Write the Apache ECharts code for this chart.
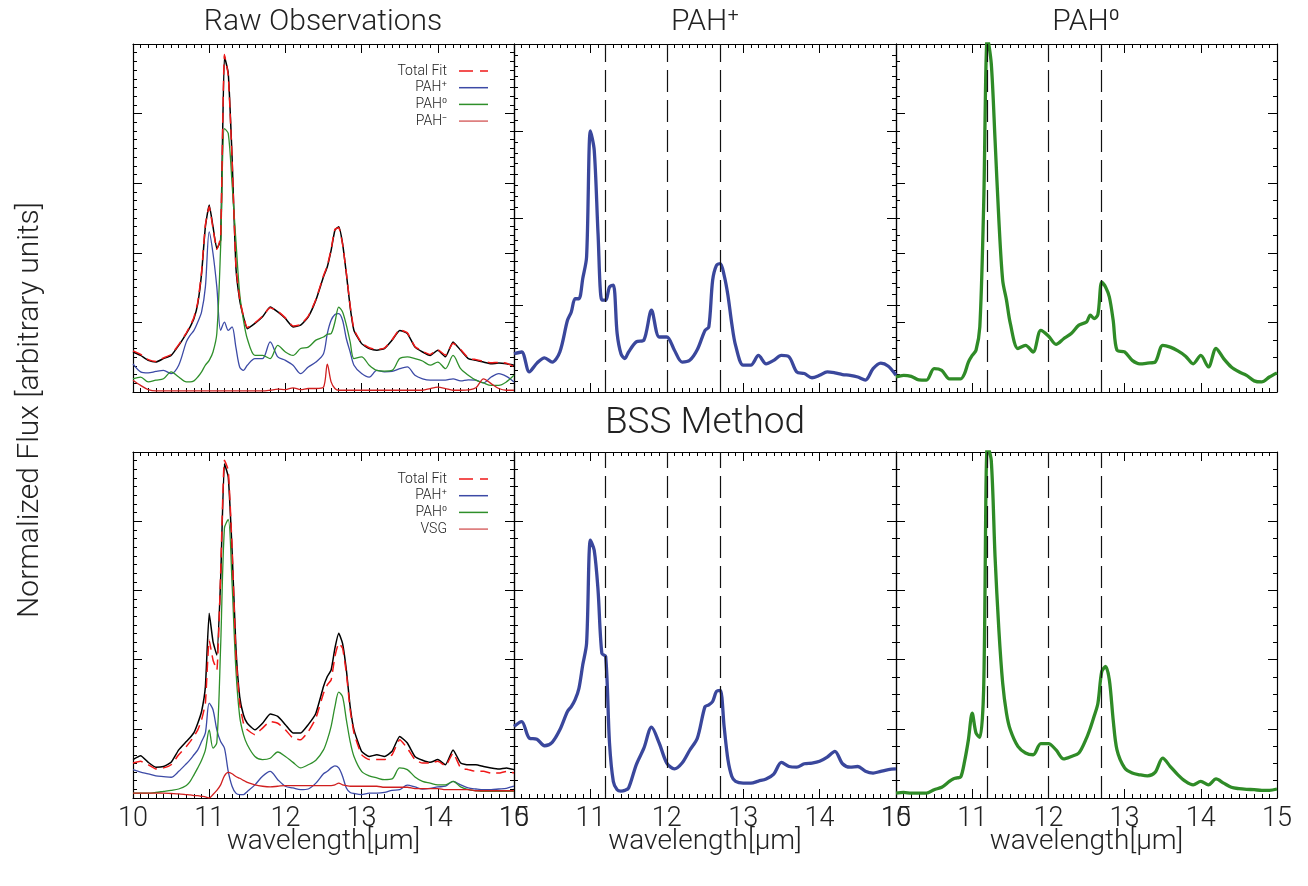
<!DOCTYPE html>
<html>
<head>
<meta charset="utf-8">
<title>PAH spectra</title>
<script src="https://cdn.jsdelivr.net/npm/echarts@6/dist/echarts.min.js"></script>
<style>
html, body { margin: 0; padding: 0; background: #fff; }
#main { width: 1308px; height: 886px; }
</style>
</head>
<body>
<div id="main"></div>
<script>
// wavelength grid in micron (denser around the 11.2 and 12.7 bands)
var wave = [10.0,10.1,10.2,10.3,10.4,10.5,10.6,10.7,
  10.75,10.8,10.85,10.9,10.95,11.0,11.05,11.1,11.15,11.2,11.25,11.3,11.35,11.4,11.45,11.5,
  11.6,11.7,11.8,11.9,12.0,12.1,12.2,12.3,12.4,12.5,
  12.55,12.6,12.65,12.7,12.75,12.8,12.85,12.9,
  13.0,13.1,13.2,13.3,13.4,13.5,13.6,13.7,13.8,13.9,14.0,14.1,14.2,14.3,14.4,14.5,14.6,14.7,14.8,14.9,15.0];

// band positions marked with dashed lines
var bandCentres = [11.2, 12.0, 12.7];
var xTicks = [10, 11, 12, 13, 14, 15];

// top row: raw observations and the fitted components (normalized flux, 0-100)
var rawObs = [11.5,10.5,9.1,8.6,9.6,10.5,13.4,16.8,
  18.7,21.1,25.4,34.0,47.5,53.7,47.5,41.2,43.6,96.5,91.6,67.6,36.0,26.4,21.6,18.2,
  19.7,21.6,24.4,23.0,21.1,18.7,19.2,21.6,26.4,33.1,
  36.0,40.7,46.5,47.5,42.7,34.0,24.4,17.7,
  13.9,12.5,12.0,12.5,14.9,17.7,16.8,12.9,11.5,10.5,12.0,10.1,14.4,12.0,9.6,9.1,8.6,8.1,8.3,8.1,7.7];
var rawFit = [11.8,10.8,9.3,8.8,9.8,10.8,13.6,17.0,
  19.0,21.5,25.8,34.5,48.0,53.2,47.0,41.0,44.5,97.0,91.0,67.0,36.5,26.8,21.8,18.5,
  19.9,21.8,24.2,23.2,21.3,19.0,19.4,21.8,26.6,33.4,
  36.3,41.0,46.8,47.2,42.5,34.2,24.8,18.0,
  14.1,12.7,12.2,12.6,15.0,17.9,17.0,13.1,11.7,10.8,12.1,10.6,14.0,12.2,9.8,9.3,8.8,8.4,8.5,8.3,7.3];
var rawCation = [8.1,5.8,5.5,5.9,6.2,5.3,7.7,14.4,
  16.3,17.7,20.1,23.0,30.2,46.0,39.8,30.2,17.7,20.1,17.7,18.7,12.9,7.2,6.2,7.7,
  9.6,9.6,14.4,10.1,9.1,7.7,5.3,7.2,8.6,11.0,
  16.8,20.6,22.3,22.5,20.6,15.3,11.5,7.7,
  5.3,4.3,6.2,5.8,5.9,6.7,7.2,4.8,3.8,3.4,3.4,3.4,3.8,3.2,3.5,3.4,2.6,4.3,5.3,4.5,2.9];
var rawNeutral = [3.8,4.3,2.9,3.4,3.8,5.8,4.3,2.9,
  2.9,3.2,4.3,5.8,7.7,9.1,11.5,16.8,41.7,75.7,74.3,59.9,43.6,28.3,20.6,15.3,
  10.5,10.5,9.6,13.4,11.5,10.5,12.5,12.9,14.9,15.8,
  16.6,16.8,20.1,24.4,23.0,19.2,14.4,9.6,
  10.1,7.7,6.2,6.0,6.2,9.6,10.1,9.6,8.9,7.7,8.6,6.7,10.5,6.7,4.8,3.4,2.6,1.9,1.9,2.9,4.8];
var rawAnion = [3.4,1.9,0.7,0.3,0.3,0.3,0.3,0.3,
  0.3,0.3,0.3,0.3,0.3,0.3,0.3,0.3,0.3,0.3,0.3,0.3,0.3,0.3,0.3,0.3,
  0.3,0.3,0.5,0.8,0.7,1.2,0.7,1.0,1.0,1.4,
  8.0,2.9,1.0,0.5,0.5,0.5,0.5,0.5,
  0.5,0.5,0.5,0.5,0.5,0.5,0.5,0.5,0.5,1.0,1.4,1.0,0.5,0.5,0.6,1.2,3.8,2.4,1.0,0.5,0.5];
var pahCation = [11.0,11.5,5.8,8.3,9.8,8.6,11.5,20.6,
  23.0,26.8,26.8,32.6,38.8,75.0,69.5,45.5,26.4,26.4,30.2,30.7,16.8,11.0,9.6,11.5,
  14.4,14.9,23.5,15.8,15.8,12.0,8.6,9.1,12.2,17.7,
  18.7,32.1,36.4,36.9,33.6,27.8,19.7,13.4,
  7.7,7.7,10.5,8.1,9.1,10.5,10.1,5.8,5.3,4.1,4.8,5.8,5.5,5.0,4.8,4.3,3.4,6.7,8.3,7.4,4.8];
var pahNeutral = [4.3,4.8,4.5,3.5,3.4,6.7,6.2,3.8,
  3.8,3.8,3.8,5.3,8.6,10.5,12.0,18.7,53.2,102,94.4,72.4,49.4,32.1,26.4,19.7,
  12.5,13.4,11.5,17.7,16.1,13.7,15.3,16.8,19.2,20.1,
  22.1,21.1,22.3,31.6,30.2,27.3,20.6,12.0,
  11.5,9.1,8.1,8.3,8.6,13.4,12.9,11.8,10.3,8.1,10.5,7.2,12.5,9.6,7.2,5.8,4.8,3.2,2.9,4.3,5.5];

// bottom row: BSS method
var bssObs = [11.1,12.2,10.3,8.9,9.1,10.3,13.9,16.3,
  17.5,18.9,21.6,25.0,32.2,53.4,45.2,41.3,63.0,96.6,92.8,71.6,43.8,29.3,24.0,21.6,
  19.7,21.6,24.3,23.6,21.2,18.8,18.8,21.2,24.5,32.2,
  35.1,37.0,43.3,47.6,44.7,37.0,26.4,19.7,
  13.5,12.0,12.5,12.0,13.5,17.8,15.9,12.0,10.9,10.3,11.1,9.6,13.9,10.1,9.6,9.6,9.1,8.7,8.4,8.7,8.2];
var bssFit = [10.1,10.6,9.6,8.4,8.7,9.6,12.5,14.9,
  16.3,17.8,19.7,22.6,27.4,45.7,39.9,37.0,64.9,97.6,94.7,72.6,41.8,27.4,21.6,19.7,
  18.3,20.2,22.1,21.6,19.7,17.3,16.8,19.2,23.1,30.3,
  32.7,34.1,40.9,44.7,43.3,36.1,25.5,18.8,
  12.5,11.1,11.1,11.1,12.5,16.8,14.4,11.1,10.1,10.1,10.6,9.3,13.0,8.7,8.2,7.7,7.7,7.2,7.2,7.7,7.2];
var bssCation = [8.2,7.5,7.0,6.4,6.2,6.0,7.7,9.9,
  11.1,12.5,13.9,16.3,18.8,27.4,25.5,19.7,16.3,14.4,7.7,3.4,1.4,1.0,1.0,1.9,
  3.8,6.3,7.7,5.3,3.4,2.9,2.4,2.6,4.3,7.0,
  7.7,8.7,9.3,8.7,6.3,2.9,1.6,1.3,
  1.0,1.4,1.4,1.6,2.2,2.4,3.7,3.2,2.6,2.8,3.2,3.4,4.8,3.8,2.9,2.6,2.4,2.4,2.6,2.8,3.4];
var bssNeutral = [1.4,1.4,1.4,1.6,1.9,2.2,2.6,3.6,
  4.8,6.7,8.7,10.9,13.9,19.7,14.4,16.0,43.8,78.0,80.5,62.0,37.2,23.6,18.3,15.4,
  12.0,11.1,11.5,13.3,12.0,10.3,8.7,9.6,10.9,13.9,
  16.8,20.7,26.4,30.6,29.3,22.6,16.3,12.0,
  7.7,6.4,5.8,5.3,5.5,8.7,8.2,6.1,4.8,4.3,3.8,3.8,4.8,3.2,2.4,2.1,1.9,1.9,1.9,1.9,1.9];
var bssVsg = [1.4,1.4,1.4,1.4,1.4,1.3,1.2,1.0,
  0.9,0.7,0.7,0.5,0.3,0.0,1.0,2.2,3.8,6.4,7.4,7.0,6.2,5.7,5.1,4.5,
  3.8,3.4,3.2,3.4,3.6,3.6,3.6,3.6,3.6,3.6,
  3.6,3.6,3.8,4.3,3.8,3.6,3.4,3.4,
  3.4,3.4,3.4,3.1,3.1,3.1,3.1,2.7,2.7,2.7,2.7,2.4,2.4,2.4,2.4,2.1,2.1,2.1,2.1,2.1,2.1];
var bssCationComp = [20.7,22.1,17.3,17.0,15.1,16.1,19.7,25.0,
  26.4,28.4,31.7,38.5,44.7,74.5,71.6,60.1,41.8,40.9,15.9,4.8,2.4,2.0,2.2,2.9,
  9.6,14.4,20.5,15.9,10.1,8.4,10.1,13.8,17.3,26.4,
  26.9,27.9,30.8,31.1,20.7,11.1,6.3,4.8,
  4.3,4.3,4.9,5.5,6.9,10.3,9.1,8.9,9.9,10.1,10.6,11.8,13.5,9.9,8.9,9.1,7.7,7.2,7.7,8.2,8.4];
var bssNeutralComp = [1.4,1.6,1.4,1.4,1.4,2.4,3.1,4.8,
  5.5,5.8,6.1,10.6,16.8,24.5,18.8,17.5,31.3,102,97.6,69.7,48.6,33.2,24.5,19.7,
  14.9,13.0,12.5,15.7,15.7,13.9,11.3,12.0,13.0,17.3,
  20.2,23.6,27.4,36.5,38.0,34.1,22.6,13.9,
  8.7,7.2,6.7,6.4,7.4,11.5,9.1,6.7,4.8,3.8,4.8,3.8,5.5,4.3,3.1,2.7,2.5,2.4,2.2,2.2,2.6];

// panel layout
var colLeft = [133, 514, 896];
var colWidth = [381, 382, 381];
var rowTop = [44, 452];
var rowHeight = [348, 346];
var panels = [
  {row: 0, col: 0, yStep: 20, ySub: 8},
  {row: 0, col: 1, yStep: 25, ySub: 8},
  {row: 0, col: 2, yStep: 20, ySub: 4},
  {row: 1, col: 0, yStep: 20, ySub: 8},
  {row: 1, col: 1, yStep: 20, ySub: 4},
  {row: 1, col: 2, yStep: 20, ySub: 4}
];

var FONT = 'Roboto, "DejaVu Sans", sans-serif';
var TXT = '#222';
var BLUE = '#3c4aa6', GREEN = '#2e8f2a', RED = '#d01f1f', FITRED = '#f01818';

var grids = [], xAxes = [], yAxes = [];
panels.forEach(function (p, i) {
  grids.push({
    left: colLeft[p.col], top: rowTop[p.row],
    width: colWidth[p.col], height: rowHeight[p.row],
    outerBoundsMode: 'none', containLabel: false
  });
  var tick = {show: true, inside: true, length: 9, lineStyle: {color: '#000', width: 1}};
  var minor = function (n) { return {show: true, splitNumber: n, length: 4, lineStyle: {color: '#000', width: 1}}; };
  var line = {show: true, onZero: false, lineStyle: {color: '#000', width: 1.2}};
  var bottomRow = p.row === 1;
  xAxes.push({
    type: 'value', gridIndex: i, position: 'bottom', min: xTicks[0], max: xTicks[xTicks.length - 1], interval: 1,
    axisLine: line, axisTick: tick, minorTick: minor(10), splitLine: {show: false},
    axisLabel: {show: bottomRow, margin: 8, fontSize: 27, fontFamily: FONT, fontWeight: 300, color: TXT,
      showMinLabel: true, showMaxLabel: true, hideOverlap: false},
    name: bottomRow ? 'wavelength[\u03bcm]' : '', nameLocation: 'middle', nameGap: 30, nameMoveOverlap: false,
    nameTextStyle: {fontSize: 28, fontFamily: FONT, fontWeight: 300, color: TXT}
  });
  xAxes.push({
    type: 'value', gridIndex: i, position: 'top', min: xTicks[0], max: xTicks[xTicks.length - 1], interval: 1,
    axisLine: line, axisTick: tick, minorTick: minor(10), splitLine: {show: false}, axisLabel: {show: false}
  });
  yAxes.push({
    type: 'value', gridIndex: i, position: 'left', min: 0, max: 100, interval: p.yStep,
    axisLine: line, axisTick: tick, minorTick: minor(p.ySub), splitLine: {show: false}, axisLabel: {show: false}
  });
  yAxes.push({
    type: 'value', gridIndex: i, position: 'right', min: 0, max: 100, interval: p.yStep,
    axisLine: line, axisTick: tick, minorTick: minor(p.ySub), splitLine: {show: false}, axisLabel: {show: false}
  });
});

function curve(p, name, values, color, width, dash, smooth) {
  return {
    name: name, type: 'line', xAxisIndex: 2 * p, yAxisIndex: 2 * p,
    data: wave.map(function (w, k) { return [w, values[k]]; }),
    symbol: 'none', showSymbol: false, smooth: smooth, silent: true,
    lineStyle: {color: color, width: width, type: dash || 'solid'}
  };
}
function withBands(s) {
  s.markLine = {
    symbol: ['none', 'none'], silent: true, animation: false, label: {show: false},
    lineStyle: {color: '#111', width: 1.2, type: [22, 8]},
    data: bandCentres.map(function (b) { return {xAxis: b}; })
  };
  return s;
}

var series = [
  curve(0, 'Observed', rawObs, '#000', 1.5, null, 0.15),
  curve(0, 'PAH+', rawCation, BLUE, 1.3, null, 0.3),
  curve(0, 'PAH0', rawNeutral, GREEN, 1.3, null, 0.3),
  curve(0, 'PAH-', rawAnion, RED, 1.3, null, 0.3),
  curve(0, 'Total Fit', rawFit, FITRED, 1.5, [10, 6], 0.15),
  withBands(curve(1, 'PAH+ component', pahCation, '#3a479c', 3.3, null, 0.3)),
  withBands(curve(2, 'PAH0 component', pahNeutral, '#2f8b27', 3.3, null, 0.3)),
  curve(3, 'Observed BSS', bssObs, '#000', 1.5, null, 0.15),
  curve(3, 'PAH+ BSS', bssCation, BLUE, 1.3, null, 0.3),
  curve(3, 'PAH0 BSS', bssNeutral, GREEN, 1.3, null, 0.3),
  curve(3, 'VSG', bssVsg, RED, 1.3, null, 0.3),
  curve(3, 'Total Fit BSS', bssFit, FITRED, 1.5, [10, 6], 0.15),
  withBands(curve(4, 'PAH+ BSS component', bssCationComp, '#3a479c', 3.3, null, 0.3)),
  withBands(curve(5, 'PAH0 BSS component', bssNeutralComp, '#2f8b27', 3.3, null, 0.3))
];

// titles, shared y label and the two small legends
function label(text, x, y, size, rot) {
  return {type: 'text', x: x, y: y, rotation: rot || 0, silent: true,
    style: {text: text, fill: TXT, font: '300 ' + size + 'px ' + FONT, align: 'center', verticalAlign: 'middle'}};
}
function legend(items, top) {
  var out = [];
  items.forEach(function (it, k) {
    var y = top + k * 16.7;
    out.push({type: 'text', x: 447, y: y, silent: true,
      style: {text: it[0], fill: TXT, font: '300 14px ' + FONT, align: 'right', verticalAlign: 'middle'}});
    out.push({type: 'line', silent: true, shape: {x1: 459, y1: y, x2: 488, y2: y},
      style: {stroke: it[1], lineWidth: 1.5, lineDash: it[2] || null}});
  });
  return out;
}
var graphics = [
  label('Raw Observations', 323, 22, 30),
  label('PAH\u207a', 705, 22, 30),
  label('PAH\u2070', 1086, 22, 30),
  label('BSS Method', 705, 424, 37),
  label('Normalized Flux [arbitrary units]', 30, 410, 30, Math.PI / 2)
].concat(
  legend([['Total Fit', FITRED, [14, 7]], ['PAH\u207a', BLUE], ['PAH\u2070', GREEN], ['PAH\u207b', '#d86a6a']], 71),
  legend([['Total Fit', FITRED, [14, 7]], ['PAH\u207a', BLUE], ['PAH\u2070', GREEN], ['VSG', '#d86a6a']], 479)
);

var chart = echarts.init(document.getElementById('main'));
chart.setOption({
  animation: false,
  backgroundColor: '#fff',
  grid: grids,
  xAxis: xAxes,
  yAxis: yAxes,
  series: series,
  graphic: graphics
});
</script>
</body>
</html>
